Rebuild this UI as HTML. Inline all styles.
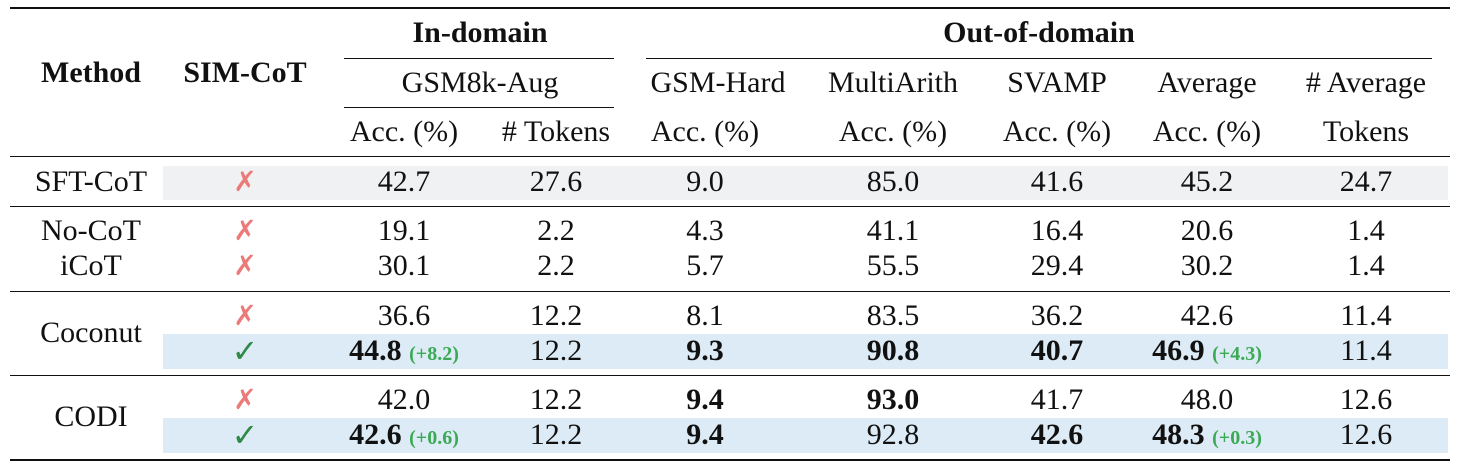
<!DOCTYPE html>
<html><head><meta charset="utf-8"><style>
body{margin:0;width:1462px;height:470px;background:#fff;position:relative;overflow:hidden;font-family:"Liberation Serif",serif;color:#111;}
.t{position:absolute;transform:translate(-50%,-50%);white-space:nowrap;font-size:30px;line-height:1;}
.b{font-weight:bold;}
.g{color:#3caa55;font-size:20px;font-weight:bold;}
.x{color:#ec7a78;font-family:"DejaVu Sans",sans-serif;font-size:28px;font-weight:bold;}
.c{color:#2f8a45;font-family:"DejaVu Sans",sans-serif;font-size:32px;font-weight:bold;}
.r{position:absolute;background:#111;}
.bg{position:absolute;}
</style></head><body>
<div class="bg" style="left:163px;top:166px;width:1285px;height:34px;background:#f0f1f2"></div>
<div class="bg" style="left:163px;top:334px;width:1285px;height:35px;background:#dcebf5"></div>
<div class="bg" style="left:163px;top:418px;width:1285px;height:35px;background:#dcebf5"></div>
<div class="r" style="left:10px;top:7px;width:1440px;height:2px"></div>
<div class="r" style="left:344px;top:58px;width:270px;height:1px"></div>
<div class="r" style="left:646px;top:58px;width:786px;height:1px"></div>
<div class="r" style="left:344px;top:107px;width:270px;height:1px"></div>
<div class="r" style="left:10px;top:156px;width:1440px;height:1px"></div>
<div class="r" style="left:10px;top:206px;width:1440px;height:1px"></div>
<div class="r" style="left:10px;top:291px;width:1440px;height:1px"></div>
<div class="r" style="left:10px;top:375px;width:1440px;height:1px"></div>
<div class="r" style="left:10px;top:459px;width:1440px;height:2px"></div>

<div class="t b" style="left:91px;top:73px">Method</div>
<div class="t b" style="left:245px;top:73px">SIM-CoT</div>
<div class="t b" style="left:480px;top:33px">In-domain</div>
<div class="t b" style="left:1039px;top:33px">Out-of-domain</div>
<div class="t" style="left:480px;top:83px">GSM8k-Aug</div>
<div class="t" style="left:718px;top:83px">GSM-Hard</div>
<div class="t" style="left:893px;top:83px">MultiArith</div>
<div class="t" style="left:1057px;top:83px">SVAMP</div>
<div class="t" style="left:1207px;top:83px">Average</div>
<div class="t" style="left:1366px;top:83px"># Average</div>
<div class="t" style="left:404px;top:132px">Acc. (%)</div>
<div class="t" style="left:556px;top:132px"># Tokens</div>
<div class="t" style="left:705px;top:132px">Acc. (%)</div>
<div class="t" style="left:893px;top:132px">Acc. (%)</div>
<div class="t" style="left:1057px;top:132px">Acc. (%)</div>
<div class="t" style="left:1207px;top:132px">Acc. (%)</div>
<div class="t" style="left:1366px;top:132px">Tokens</div>

<div class="t" style="left:91px;top:182px">SFT-CoT</div>
<div class="t x" style="left:245px;top:182px">✗</div>
<div class="t" style="left:404px;top:182px">42.7</div><div class="t" style="left:556px;top:182px">27.6</div>
<div class="t" style="left:705px;top:182px">9.0</div><div class="t" style="left:893px;top:182px">85.0</div>
<div class="t" style="left:1057px;top:182px">41.6</div><div class="t" style="left:1207px;top:182px">45.2</div>
<div class="t" style="left:1366px;top:182px">24.7</div>

<div class="t" style="left:91px;top:231px">No-CoT</div>
<div class="t x" style="left:245px;top:231px">✗</div>
<div class="t" style="left:404px;top:231px">19.1</div><div class="t" style="left:556px;top:231px">2.2</div>
<div class="t" style="left:705px;top:231px">4.3</div><div class="t" style="left:893px;top:231px">41.1</div>
<div class="t" style="left:1057px;top:231px">16.4</div><div class="t" style="left:1207px;top:231px">20.6</div>
<div class="t" style="left:1366px;top:231px">1.4</div>

<div class="t" style="left:91px;top:266px">iCoT</div>
<div class="t x" style="left:245px;top:266px">✗</div>
<div class="t" style="left:404px;top:266px">30.1</div><div class="t" style="left:556px;top:266px">2.2</div>
<div class="t" style="left:705px;top:266px">5.7</div><div class="t" style="left:893px;top:266px">55.5</div>
<div class="t" style="left:1057px;top:266px">29.4</div><div class="t" style="left:1207px;top:266px">30.2</div>
<div class="t" style="left:1366px;top:266px">1.4</div>

<div class="t" style="left:91px;top:333px">Coconut</div>
<div class="t x" style="left:245px;top:316px">✗</div>
<div class="t" style="left:404px;top:316px">36.6</div><div class="t" style="left:556px;top:316px">12.2</div>
<div class="t" style="left:705px;top:316px">8.1</div><div class="t" style="left:893px;top:316px">83.5</div>
<div class="t" style="left:1057px;top:316px">36.2</div><div class="t" style="left:1207px;top:316px">42.6</div>
<div class="t" style="left:1366px;top:316px">11.4</div>
<div class="t c" style="left:245px;top:351px">✓</div>
<div class="t" style="left:404px;top:351px"><b>44.8</b> <span class="g">(+8.2)</span></div><div class="t" style="left:556px;top:351px">12.2</div>
<div class="t b" style="left:705px;top:351px">9.3</div><div class="t b" style="left:893px;top:351px">90.8</div>
<div class="t b" style="left:1057px;top:351px">40.7</div><div class="t" style="left:1207px;top:351px"><b>46.9</b> <span class="g">(+4.3)</span></div>
<div class="t" style="left:1366px;top:351px">11.4</div>

<div class="t" style="left:91px;top:417px">CODI</div>
<div class="t x" style="left:245px;top:400px">✗</div>
<div class="t" style="left:404px;top:400px">42.0</div><div class="t" style="left:556px;top:400px">12.2</div>
<div class="t b" style="left:705px;top:400px">9.4</div><div class="t b" style="left:893px;top:400px">93.0</div>
<div class="t" style="left:1057px;top:400px">41.7</div><div class="t" style="left:1207px;top:400px">48.0</div>
<div class="t" style="left:1366px;top:400px">12.6</div>
<div class="t c" style="left:245px;top:435px">✓</div>
<div class="t" style="left:404px;top:435px"><b>42.6</b> <span class="g">(+0.6)</span></div><div class="t" style="left:556px;top:435px">12.2</div>
<div class="t b" style="left:705px;top:435px">9.4</div><div class="t" style="left:893px;top:435px">92.8</div>
<div class="t b" style="left:1057px;top:435px">42.6</div><div class="t" style="left:1207px;top:435px"><b>48.3</b> <span class="g">(+0.3)</span></div>
<div class="t" style="left:1366px;top:435px">12.6</div>
</body></html>
